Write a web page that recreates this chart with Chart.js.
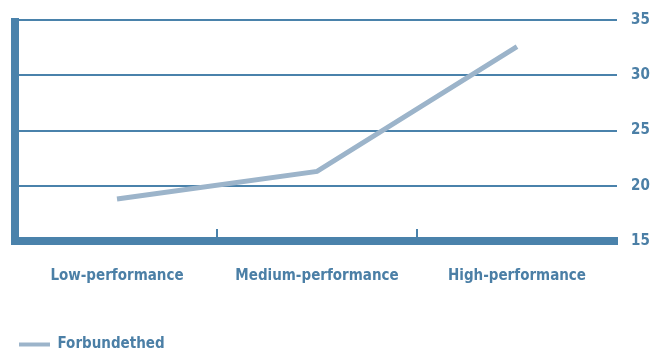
<!DOCTYPE html>
<html>
<head>
<meta charset="utf-8">
<script src="https://cdn.jsdelivr.net/npm/chart.js@4/dist/chart.umd.min.js"></script>
<style>
  html, body { margin: 0; padding: 0; background: #ffffff; }
  #wrap { width: 653px; height: 352px; position: relative; }
</style>
</head>
<body>
<div id="wrap"><canvas id="c"></canvas></div>
<script>
// Performance groups and the connectedness score for each
const categories = ['Low-performance', 'Medium-performance', 'High-performance'];
const seriesName = 'Forbundethed';
const seriesValues = [18.8, 21.3, 32.6];
const yTicks = [15, 20, 25, 30, 35];

const axisBlue = '#4a82ab';
const textBlue = '#4b7fa6';
const lineBlue = '#9cb4ca';
const fontFamily = "'DejaVu Sans Condensed', 'Liberation Sans Narrow', 'Roboto', sans-serif";

// Thick left frame and short separators between the category bands
const frameAndSeparators = {
  id: 'frameAndSeparators',
  afterDatasetsDraw(chart) {
    const { ctx, chartArea, scales } = chart;
    const x = scales.x;
    ctx.save();
    ctx.fillStyle = axisBlue;
    ctx.fillRect(chartArea.left - 6, chartArea.top - 2, 8, chartArea.bottom - chartArea.top + 6);
    ctx.strokeStyle = axisBlue;
    ctx.lineWidth = 2;
    for (let i = 1; i < categories.length; i++) {
      const px = (x.getPixelForTick(i - 1) + x.getPixelForTick(i)) / 2;
      ctx.beginPath();
      ctx.moveTo(px, chartArea.bottom - 12);
      ctx.lineTo(px, chartArea.bottom);
      ctx.stroke();
    }
    ctx.restore();
  }
};

new Chart(document.getElementById('c'), {
  type: 'line',
  data: {
    labels: categories,
    datasets: [{
      label: seriesName,
      data: seriesValues,
      yAxisID: 'y',
      borderColor: lineBlue,
      backgroundColor: lineBlue,
      borderWidth: 5,
      pointRadius: 0,
      tension: 0
    }]
  },
  options: {
    responsive: true,
    maintainAspectRatio: false,
    animation: false,
    layout: { padding: { left: 11, right: 0, top: 20, bottom: -10 } },
    scales: {
      x: {
        offset: true,
        grid: { display: false, drawTicks: false },
        border: { display: true, color: axisBlue, width: 8 },
        afterFit(scale) { scale.height = 88; },
        ticks: {
          color: textBlue,
          padding: 26,
          font: { family: fontFamily, size: 15, weight: 'bold' }
        }
      },
      // empty spacer on the left that leaves room for the frame
      frame: {
        type: 'linear',
        position: 'left',
        display: true,
        grid: { display: false, drawTicks: false },
        border: { display: false },
        ticks: { display: false },
        afterFit(scale) { scale.width = 6; }
      },
      y: {
        position: 'right',
        min: 15,
        max: 35,
        afterBuildTicks(scale) { scale.ticks = yTicks.map(v => ({ value: v })); },
        afterFit(scale) {
          scale.width = 36;
          scale.paddingTop = 0;
          scale.paddingBottom = 0;
        },
        grid: { color: axisBlue, lineWidth: 2, drawTicks: false },
        border: { display: false },
        ticks: {
          color: textBlue,
          padding: 14,
          font: { family: fontFamily, size: 15, weight: 'bold' }
        }
      }
    },
    plugins: {
      legend: {
        position: 'bottom',
        align: 'start',
        labels: {
          color: textBlue,
          boxWidth: 31,
          boxHeight: 4,
          padding: 8,
          font: { family: fontFamily, size: 15, weight: 'bold' },
          generateLabels(chart) {
            return Chart.defaults.plugins.legend.labels.generateLabels(chart)
              .map(item => Object.assign(item, { lineWidth: 0 }));
          }
        }
      },
      tooltip: { enabled: false }
    }
  },
  plugins: [frameAndSeparators]
});
</script>
</body>
</html>
